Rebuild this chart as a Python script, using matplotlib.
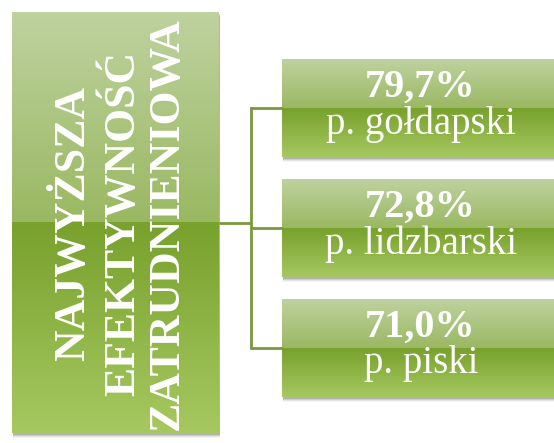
import numpy as np
import matplotlib.pyplot as plt
from matplotlib.colors import to_rgb
from matplotlib.patches import Rectangle

header_lines = ["NAJWYŻSZA", "EFEKTYWNOŚĆ", "ZATRUDNIENIOWA"]
values = ["79,7%", "72,8%", "71,0%"]
counties = ["p. gołdapski", "p. lidzbarski", "p. piski"]

top_light = "#bed29f"
mid_upper = "#9ab862"
mid_lower = "#78a12d"
bottom_light = "#a6c860"
line_col = "#78993c"

W, H = 554, 443
fig = plt.figure(figsize=(W / 100, H / 100), dpi=100)
ax = fig.add_axes([0, 0, 1, 1])
ax.set_xlim(0, W)
ax.set_ylim(H, 0)
ax.axis("off")


def grad_box(x0, y0, x1, y1):
    # soft drop shadow
    for k, a in [(5, 0.06), (4, 0.1), (3, 0.16), (2, 0.22)]:
        ax.add_patch(Rectangle((x0 + 1, y0 + k), x1 - x0, y1 - y0, color="#555555",
                               alpha=a, lw=0, zorder=1))
    n = 200
    c = np.zeros((n, 1, 3))
    half = n // 2
    a0, a1 = np.array(to_rgb(top_light)), np.array(to_rgb(mid_upper))
    b0, b1 = np.array(to_rgb(mid_lower)), np.array(to_rgb(bottom_light))
    for i in range(n):
        if i < half:
            s = i / (half - 1)
            c[i, 0] = a0 + (a1 - a0) * s
        else:
            s = (i - half) / (n - half - 1)
            c[i, 0] = b0 + (b1 - b0) * s
    ax.imshow(c, extent=(x0, x1, y1, y0), aspect="auto", interpolation="nearest", zorder=2)


# left header box
lx0, ly0, lx1, ly1 = 12, 12, 219, 433
grad_box(lx0, ly0, lx1, ly1)
cy = (ly0 + ly1) / 2
xs = [73, 123, 167]
for x, txt in zip(xs, header_lines):
    ax.text(x, cy + 1, txt, rotation=90, ha="center", va="center", color="white",
            fontsize=31.5, fontweight="bold", family="Liberation Serif", zorder=5)

# connectors
box_centers = [108, 228, 348]
vx = 251
ax.plot([lx1, vx], [cy, cy], color=line_col, lw=2, zorder=3, solid_capstyle="butt")
ax.plot([vx, vx], [box_centers[0], box_centers[-1]], color=line_col, lw=2, zorder=3)
for yc in box_centers:
    ax.plot([vx, 283], [yc, yc], color=line_col, lw=2, zorder=3, solid_capstyle="butt")

# right boxes
rx0, rx1 = 282, 560
bh = 98
for yc, v, name in zip(box_centers, values, counties):
    grad_box(rx0, yc - bh / 2, rx1, yc + bh / 2)
    ax.text(420, yc - 21, v, ha="center", va="center", color="white",
            fontsize=29, fontweight="bold", family="Liberation Serif", zorder=5)
    ax.text(421, yc + 16, name, ha="center", va="center", color="white",
            fontsize=28, family="Liberation Serif", zorder=5)

fig.savefig("out.png", dpi=100)
